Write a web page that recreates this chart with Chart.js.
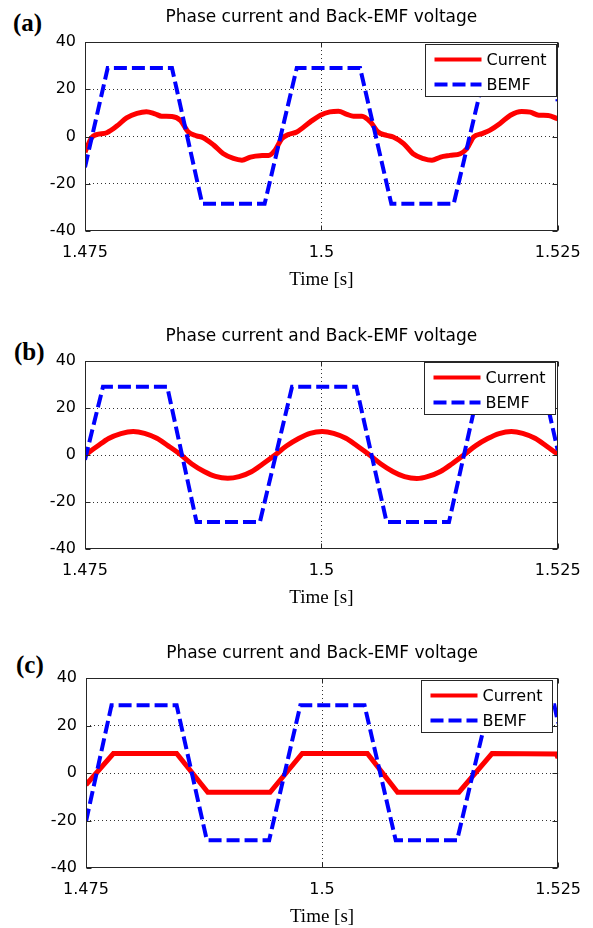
<!DOCTYPE html>
<html>
<head>
<meta charset="utf-8">
<script src="https://cdn.jsdelivr.net/npm/chart.js@4.4.1/dist/chart.umd.min.js"></script>
<style>
  body { margin: 0; background: #fff; width: 593px; height: 928px; position: relative; overflow: hidden; }
  .panel { position: absolute; left: 0; width: 593px; }
  .tag { position: absolute; font: bold 25px "Liberation Serif", "Times New Roman", serif; color: #000; line-height: 1; }
</style>
</head>
<body>
<div class="tag" style="left:13px; top:10px">(a)</div>
<div class="tag" style="left:14px; top:339px">(b)</div>
<div class="tag" style="left:16px; top:652px">(c)</div>
<div class="panel" style="top:0px; height:291px"><canvas id="chartA"></canvas></div>
<div class="panel" style="top:319px; height:290px"><canvas id="chartB"></canvas></div>
<div class="panel" style="top:636px; height:292px"><canvas id="chartC"></canvas></div>
<script>
// axis ticks
var xTicks = [1.475, 1.5, 1.525];
var yTicks = [-40, -20, 0, 20, 40];
var seriesNames = ["Current", "BEMF"];

// (a) phase current / back-EMF
var timeA_I = [1.4750, 1.4757, 1.4762, 1.4773, 1.4784, 1.4794, 1.4805, 1.4815, 1.4824, 1.4831,
               1.4842, 1.4851, 1.4859, 1.4868, 1.4875, 1.4886, 1.4896, 1.4907, 1.4916, 1.4925,
               1.4935, 1.4944, 1.4951, 1.4958, 1.4965, 1.4974, 1.4988, 1.4999, 1.5009, 1.5018,
               1.5027, 1.5034, 1.5043, 1.5052, 1.5060, 1.5069, 1.5076, 1.5087, 1.5097, 1.5108,
               1.5117, 1.5126, 1.5136, 1.5147, 1.5154, 1.5161, 1.5170, 1.5178, 1.5189, 1.5200,
               1.5212, 1.5221, 1.5230, 1.5240, 1.5249, 1.5250];
var currentA = [-6.6, -0.5, 0.8, 1.6, 4.5, 7.9, 9.8, 10.5, 9.6, 8.6,
                8.5, 6.8, 2.0, 0.3, -0.5, -3.6, -7.2, -9.3, -10.0, -8.7,
                -8.1, -8.0, -5.8, -1.0, 0.8, 1.9, 6.1, 9.0, 10.4, 10.7,
                9.4, 8.6, 8.6, 6.1, 1.9, 0.5, -0.2, -3.0, -7.3, -9.4,
                -10.1, -8.7, -8.0, -7.3, -5.1, -0.2, 1.2, 2.6, 5.5, 9.0,
                10.6, 10.3, 9.0, 8.9, 7.6, 7.4];
var timeA_E = [1.4750, 1.4774, 1.4842, 1.4874, 1.4940, 1.4974, 1.5041, 1.5074, 1.5140, 1.5174, 1.5242, 1.5250];
var bemfA = [-13, 29, 29, -28.5, -28.5, 29, 29, -28.5, -28.5, 29, 29, 15];

// (b)
var timeB_I = [1.4750, 1.4763, 1.4775, 1.4788, 1.4801, 1.4813, 1.4826, 1.4838, 1.4851, 1.4863,
               1.4876, 1.4888, 1.4901, 1.4913, 1.4926, 1.4938, 1.4951, 1.4963, 1.4976, 1.4988,
               1.5001, 1.5013, 1.5026, 1.5038, 1.5051, 1.5063, 1.5076, 1.5088, 1.5101, 1.5113,
               1.5126, 1.5138, 1.5151, 1.5163, 1.5176, 1.5188, 1.5201, 1.5213, 1.5226, 1.5238, 1.5250];
var currentB = [0.0, 3.7, 7.0, 9.1, 10.0, 9.2, 7.1, 3.9, 0.2, -3.8,
                -7.0, -9.1, -9.9, -9.2, -7.1, -3.8, 0.0, 3.8, 7.0, 9.2,
                10.0, 9.2, 7.1, 3.8, 0.0, -3.8, -7.1, -9.2, -10.0, -9.1,
                -7.0, -3.8, 0.1, 3.9, 7.0, 9.1, 10.0, 9.2, 7.1, 3.8, 0.3];
var timeB_E = [1.4750, 1.4769, 1.4837, 1.4868, 1.4935, 1.4969, 1.5037, 1.5069, 1.5135, 1.5167, 1.5235, 1.5250];
var bemfB = [-2, 29, 29, -28.5, -28.5, 29, 29, -28.5, -28.5, 29, 29, 2];

// (c)
var timeC_I = [1.4750, 1.4779, 1.4846, 1.4879, 1.4945, 1.4979, 1.5048, 1.5080, 1.5145, 1.5180, 1.5248, 1.5250];
var currentC = [-5.0, 8.2, 8.2, -8.1, -8.1, 8.2, 8.2, -8.1, -8.1, 8.2, 8.0, 6.3];
var timeC_E = [1.4750, 1.4777, 1.4846, 1.4878, 1.4944, 1.4977, 1.5045, 1.5078, 1.5143, 1.5177, 1.5246, 1.5250];
var bemfC = [-20.4, 28.5, 28.5, -28.3, -28.3, 28.5, 28.5, -28.3, -28.3, 28.5, 28.5, 21];

function toPoints(ts, vs) {
    return ts.map(function(t, i) { return { x: t, y: vs[i] }; });
}

// box around the axes, inner tick marks and the legend box
var framePlugin = {
    id: 'frame',
    afterDraw: function(chart, args, opts) {
        var ctx = chart.ctx, a = chart.chartArea, sx = chart.scales.x, sy = chart.scales.y;
        var l = Math.round(a.left) + 0.5, r = Math.round(a.right) - 0.5;
        var t = Math.round(a.top) + 0.5, b = Math.round(a.bottom) - 0.5;
        ctx.save();
        ctx.strokeStyle = '#262626';
        ctx.lineWidth = 1;
        ctx.strokeRect(l, t, r - l, b - t);
        ctx.beginPath();
        sy.ticks.forEach(function(tk) {
            var py = Math.round(sy.getPixelForValue(tk.value)) + 0.5;
            ctx.moveTo(l, py); ctx.lineTo(l + 5, py);
            ctx.moveTo(r, py); ctx.lineTo(r - 5, py);
        });
        sx.ticks.forEach(function(tk) {
            var px = Math.round(sx.getPixelForValue(tk.value)) + 0.5;
            ctx.moveTo(px, b); ctx.lineTo(px, b - 5);
            ctx.moveTo(px, t); ctx.lineTo(px, t + 5);
        });
        ctx.stroke();

        var bw = 131, bh = 52;
        var bx = Math.round(a.right - opts.dx - bw) + 0.5;
        var by = Math.round(a.top + opts.dy) + 0.5;
        ctx.fillStyle = '#fff';
        ctx.fillRect(bx, by, bw, bh);
        ctx.strokeStyle = '#262626';
        ctx.strokeRect(bx, by, bw, bh);
        ctx.font = '16px "DejaVu Sans"';
        ctx.textBaseline = 'middle';
        chart.data.datasets.forEach(function(ds, i) {
            var yy = by + 15 + i * 25;
            ctx.save();
            ctx.strokeStyle = ds.borderColor;
            ctx.lineWidth = 4;
            ctx.setLineDash(ds.borderDash || []);
            ctx.beginPath();
            ctx.moveTo(bx + 9, yy);
            ctx.lineTo(bx + 56, yy);
            ctx.stroke();
            ctx.restore();
            ctx.fillStyle = '#000';
            ctx.fillText(ds.label, bx + 61, yy + 1);
        });
        ctx.restore();
    }
};

function makePanel(id, tI, vI, tE, vE, cfg) {
    new Chart(document.getElementById(id), {
        type: 'line',
        data: {
            datasets: [{
                label: seriesNames[0],
                data: toPoints(tI, vI),
                borderColor: '#ff0000',
                borderWidth: 5,
                pointRadius: 0,
                cubicInterpolationMode: cfg.smooth ? 'monotone' : 'default',
                tension: 0,
                order: 2,
                clip: 0
            }, {
                label: seriesNames[1],
                data: toPoints(tE, vE),
                borderColor: '#0000ff',
                borderWidth: 4,
                borderDash: [13, 5],
                pointRadius: 0,
                tension: 0,
                order: 1,
                clip: 0
            }]
        },
        options: {
            responsive: true,
            maintainAspectRatio: false,
            animation: false,
            events: [],
            layout: { padding: { left: 0, right: cfg.padRight, top: 0, bottom: 0 }, autoPadding: false },
            plugins: {
                legend: { display: false },
                tooltip: { enabled: false },
                title: {
                    display: true,
                    text: 'Phase current and Back-EMF voltage',
                    fullSize: false,
                    color: '#000',
                    font: { family: '"DejaVu Sans"', size: 17, weight: 'normal', lineHeight: 1.2 },
                    padding: { top: 7, bottom: 14.6 }
                },
                frame: { dx: cfg.legDx, dy: cfg.legDy }
            },
            scales: {
                x: {
                    type: 'linear',
                    min: 1.475,
                    max: 1.525,
                    afterBuildTicks: function(scale) {
                        scale.ticks = xTicks.map(function(v) { return { value: v }; });
                    },
                    afterFit: function(scale) { scale.height = 60; },
                    ticks: {
                        color: '#000',
                        padding: 12,
                        maxRotation: 0,
                        font: { family: '"DejaVu Sans"', size: 16 },
                        callback: function(v) { return String(v); }
                    },
                    grid: {
                        drawTicks: false,
                        lineWidth: 1,
                        color: function(c) { return c.tick && c.tick.value === 1.5 ? '#333' : 'rgba(0,0,0,0)'; }
                    },
                    border: { display: false, dash: [1, 3] },
                    title: {
                        display: true,
                        text: 'Time [s]',
                        color: '#000',
                        font: { family: '"Liberation Serif"', size: 19, lineHeight: 1.2 },
                        padding: { top: 0, bottom: 0 }
                    }
                },
                y: {
                    min: -40,
                    max: 40,
                    afterBuildTicks: function(scale) {
                        scale.ticks = yTicks.map(function(v) { return { value: v }; });
                    },
                    afterFit: function(scale) { scale.width = cfg.left; },
                    ticks: {
                        color: '#000',
                        padding: 9,
                        font: { family: '"DejaVu Sans"', size: 16 }
                    },
                    grid: {
                        drawTicks: false,
                        lineWidth: 1,
                        color: function(c) {
                            var v = c.tick ? c.tick.value : 0;
                            return (v === 40 || v === -40) ? 'rgba(0,0,0,0)' : '#333';
                        }
                    },
                    border: { display: false, dash: [1, 3] }
                }
            }
        },
        plugins: [framePlugin]
    });
}

makePanel('chartA', timeA_I, currentA, timeA_E, bemfA, { left: 85, padRight: 35.3, legDx: 2, legDy: 2.3, smooth: true });
makePanel('chartB', timeB_I, currentB, timeB_E, bemfB, { left: 85, padRight: 35.3, legDx: 2.7, legDy: 1, smooth: true });
makePanel('chartC', timeC_I, currentC, timeC_E, bemfC, { left: 86, padRight: 33.7, legDx: 6, legDy: 2.3, smooth: false });
</script>
</body>
</html>
